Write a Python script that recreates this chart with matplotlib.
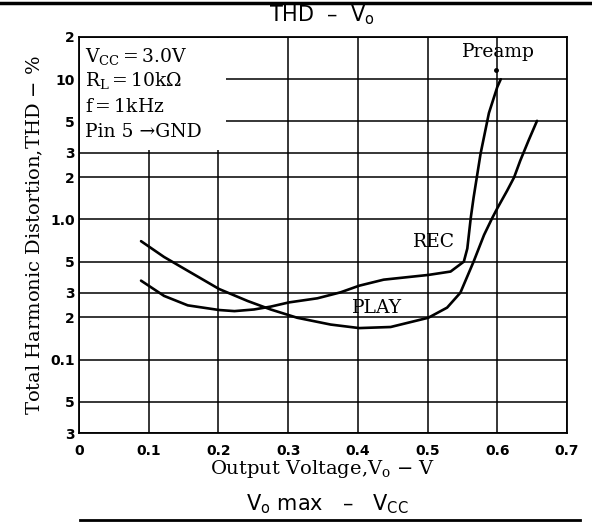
import matplotlib
matplotlib.use("Agg")
import matplotlib.pyplot as plt
from matplotlib.patches import Rectangle
from matplotlib.lines import Line2D

# Data
play_x = [0.089, 0.122, 0.151, 0.201, 0.242, 0.275, 0.313, 0.361, 0.402, 0.447, 0.501, 0.528, 0.547, 0.566, 0.581, 0.593, 0.600, 0.614, 0.624, 0.633, 0.645, 0.657]
play_y = [0.70, 0.54, 0.445, 0.319, 0.262, 0.228, 0.199, 0.178, 0.168, 0.171, 0.199, 0.235, 0.30, 0.50, 0.775, 1.03, 1.2, 1.6, 1.99, 2.63, 3.67, 5.05]

rec_x = [0.089, 0.122, 0.156, 0.201, 0.223, 0.251, 0.275, 0.301, 0.342, 0.375, 0.402, 0.437, 0.501, 0.533, 0.552, 0.557, 0.562, 0.566, 0.576, 0.588, 0.600, 0.605]
rec_y = [0.366, 0.285, 0.244, 0.226, 0.222, 0.228, 0.239, 0.256, 0.274, 0.302, 0.337, 0.372, 0.402, 0.425, 0.50, 0.62, 1.03, 1.43, 2.94, 5.74, 8.8, 10.0]

y_ticks = [20, 10, 5, 3, 2, 1, 0.5, 0.3, 0.2, 0.1, 0.05, 0.03]
y_tick_labels = ["2", "10", "5", "3", "2", "1.0", "5", "3", "2", "0.1", "5", "3"]
x_ticks = [0, 0.1, 0.2, 0.3, 0.4, 0.5, 0.6, 0.7]
x_tick_labels = ["0", "0.1", "0.2", "0.3", "0.4", "0.5", "0.6", "0.7"]

conditions = ["V$_{\\mathregular{CC}}$$\\,$=$\\,$3.0V", "R$_{\\mathregular{L}}$$\\,$=$\\,$10k\u03a9", "f$\\,$=$\\,$1kHz", "Pin 5 \u2192GND"]

serif = "DejaVu Serif"
sans = "DejaVu Sans"

fig = plt.figure(figsize=(5.92, 5.26), dpi=100)
L, R, T, B = 79, 567, 37, 433
ax = fig.add_axes([L/592, 1-B/526, (R-L)/592, (B-T)/526])
ax.set_yscale("log")
ax.set_xlim(0, 0.7)
ax.set_ylim(0.03, 20)

ax.set_yticks(y_ticks)
ax.set_yticklabels(y_tick_labels, fontfamily=sans, fontsize=10, fontweight="bold")
ax.yaxis.set_minor_locator(matplotlib.ticker.NullLocator())
ax.set_xticks(x_ticks)
ax.set_xticklabels(x_tick_labels, fontfamily=sans, fontsize=10, fontweight="bold")
ax.tick_params(axis="y", length=0, pad=3)
ax.tick_params(axis="x", length=0, pad=8)

ax.set_axisbelow(True)
ax.grid(True, color="black", linewidth=1.1)
for s in ax.spines.values():
    s.set_linewidth(1.3)

ax.add_patch(Rectangle((0.001, 3.12), 0.21, 16.7, facecolor="white", edgecolor="none", zorder=1))

ax.plot(play_x, play_y, color="black", lw=1.9, zorder=3, solid_capstyle="round")
ax.plot(rec_x, rec_y, color="black", lw=1.9, zorder=3, solid_capstyle="round")
ax.plot([0.598], [11.7], marker="o", ms=2.5, color="black", zorder=3)

line_px = [57, 81, 107, 132]
for t, py in zip(conditions, line_px):
    ax.text(0.013, 1 - (py - T)/(B - T), t, transform=ax.transAxes, fontfamily=serif, fontsize=13.5, va="center", zorder=4)

ax.text(0.602, 15.6, "Preamp", fontfamily=serif, fontsize=13.5, ha="center", va="center")
ax.text(0.51, 0.69, "REC", fontfamily=serif, fontsize=13.5, ha="center", va="center")
ax.text(0.427, 0.233, "PLAY", fontfamily=serif, fontsize=13.5, ha="center", va="center")

ax.set_xlabel("Output Voltage,V$_{\\mathregular{o}}$ $-$ V", fontfamily=serif, fontsize=14, labelpad=0)
ax.set_ylabel("Total Harmonic Distortion,THD $-$ %", fontfamily=serif, fontsize=14, labelpad=4)

fig.text(322/592, 1-15/526, "THD  \u2013  V$_{\\mathregular{o}}$", fontfamily=sans, fontsize=15, ha="center", va="center")
fig.text(327/592, 1-504/526, "V$_{\\mathregular{o}}$ max   \u2013   V$_{\\mathregular{CC}}$", fontfamily=sans, fontsize=15, ha="center", va="center")
fig.add_artist(Line2D([0, 1], [1-3/526, 1-3/526], color="black", lw=2.5))
fig.add_artist(Line2D([80/592, 580/592], [1-520/526, 1-520/526], color="black", lw=2))

fig.savefig("out.png", dpi=100)
